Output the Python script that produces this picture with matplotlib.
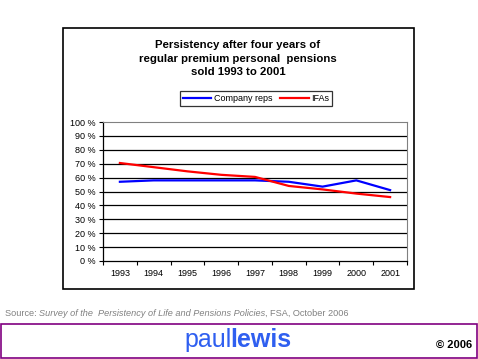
import matplotlib
matplotlib.use('Agg')
import matplotlib.pyplot as plt
from matplotlib.patches import Rectangle
import numpy as np

plt.rcParams['font.family'] = ['Liberation Sans', 'DejaVu Sans']

years = ['1993', '1994', '1995', '1996', '1997', '1998', '1999', '2000', '2001']
company_reps = [57, 58, 58, 58, 58, 57, 53.5, 58, 51]
ifas = [70.5, 67.5, 64.5, 62, 60.5, 54, 51.5, 48.5, 46]
yticks = list(range(0, 101, 10))

W, H = 478, 359
fig = plt.figure(figsize=(W / 100, H / 100), dpi=100)


def fx(px):
    return px / W


def fy(py):
    return 1 - py / H


# outer chart frame
fig.patches.append(Rectangle((fx(63), fy(289)), fx(414) - fx(63), fy(28) - fy(289),
                             transform=fig.transFigure, fill=False, ec='black', lw=1.2))
# purple footer frame
fig.patches.append(Rectangle((fx(1), fy(358)), fx(477) - fx(1), fy(324) - fy(358),
                             transform=fig.transFigure, fill=False, ec='#800080', lw=1.2))

ax = fig.add_axes([fx(103), fy(261), fx(407) - fx(103), fy(122) - fy(261)])
x = np.arange(len(years))
ax.plot(x, company_reps, color='#0000FF', lw=1.6, label='Company reps')
ax.plot(x, ifas, color='#FF0000', lw=1.6, label='IFAs')

ax.set_xlim(-0.5, len(years) - 0.5)
ax.set_ylim(0, 100)
ax.set_yticks(yticks)
ax.set_yticklabels(['%d %%' % v for v in yticks])
for v in yticks[1:-1]:
    ax.axhline(v, color='black', lw=0.9, zorder=0)

ax.set_xticks(np.arange(len(years) + 1) - 0.5)
ax.set_xticklabels([])
ax.set_xticks(x, minor=True)
ax.set_xticklabels(years, minor=True)
ax.tick_params(axis='x', which='minor', length=0, pad=6, labelsize=6.5)
ax.tick_params(axis='x', which='major', length=3, direction='out', width=0.8)
ax.tick_params(axis='y', length=3, direction='out', width=0.8, labelsize=6.5, pad=2)

ax.spines['top'].set_color('#808080')
ax.spines['right'].set_color('#808080')
for s in ('left', 'bottom'):
    ax.spines[s].set_linewidth(0.9)

fig.text(fx(238), fy(58.5), 'Persistency after four years of\nregular premium personal  pensions\nsold 1993 to 2001',
         ha='center', va='center', fontsize=8.2, fontweight='bold', linespacing=1.38)

leg = fig.legend(loc='center', bbox_to_anchor=(fx(256), fy(98.5)), ncol=2, fontsize=6.5,
                 frameon=True, fancybox=False, edgecolor='black', handlelength=3.2,
                 handletextpad=0.3, columnspacing=0.8, borderpad=0.3, borderaxespad=0)
leg.get_frame().set_linewidth(0.9)

renderer = fig.canvas.get_renderer()


def run_text(xpx, ypx, parts, gap=0.0, **kw):
    xcur = fx(xpx)
    for s, style in parts:
        t = fig.text(xcur, fy(ypx), s, va='center', ha='left', **style, **kw)
        bb = t.get_window_extent(renderer=renderer)
        xcur = (bb.x1 - gap) / W


def run_width(parts, **kw):
    w = 0
    for s, style in parts:
        t = fig.text(0, 0, s, **style, **kw)
        w += t.get_window_extent(renderer=renderer).width
        t.remove()
    return w


grey = '#808080'
run_text(5, 313, [('Source: ', {}),
                  ('Survey of the  Persistency of Life and Pensions Policies', {'style': 'italic'}),
                  (', FSA, October 2006', {})], fontsize=6.6, color=grey)

logo = [('paul', {}), ('lewis', {'fontweight': 'bold'})]
wlogo = run_width(logo, fontsize=18)
run_text(239 - wlogo / 2, 340, logo, gap=1.5, fontsize=18, color='#2F5FF0')

fig.text(fx(472), fy(345), '\u00a9 2006', ha='right', va='center', fontsize=8, fontweight='bold')

fig.savefig('out.png', dpi=100)
